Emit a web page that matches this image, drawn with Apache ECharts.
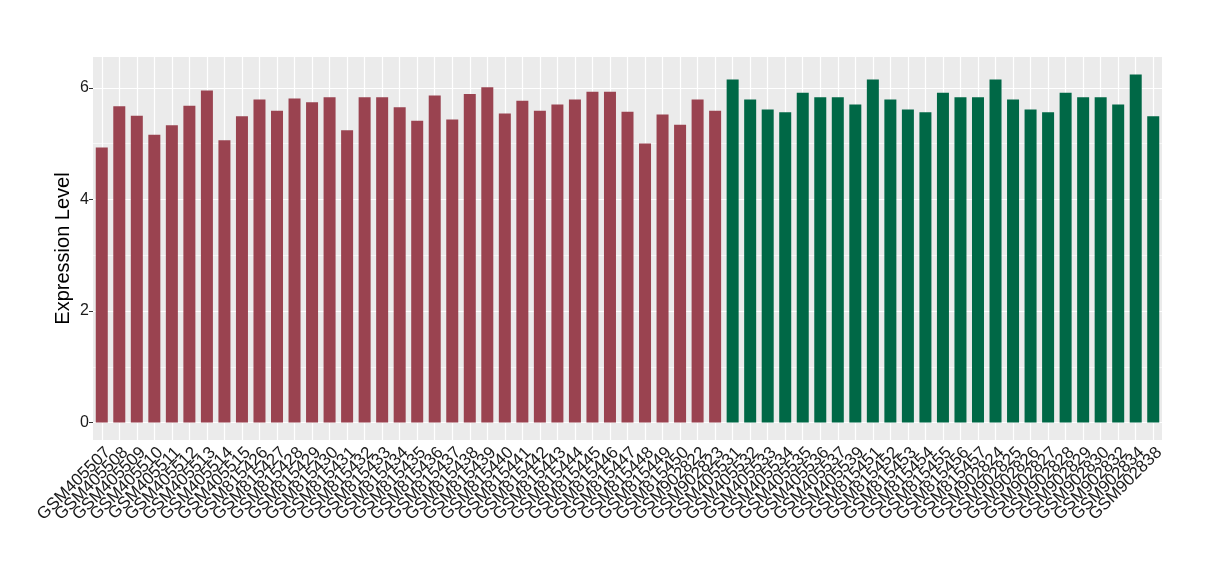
<!DOCTYPE html>
<html>
<head>
<meta charset="utf-8">
<script src="https://cdn.jsdelivr.net/npm/echarts@6/dist/echarts.min.js"></script>
<style>html,body{margin:0;padding:0;background:#fff}#c{width:1220px;height:580px}</style>
</head>
<body>
<div id="c"></div>
<script>
// Group 1 (red)
const redSamples = ["GSM405507","GSM405508","GSM405509","GSM405510","GSM405511","GSM405512","GSM405513","GSM405514","GSM405515",
  "GSM815426","GSM815427","GSM815428","GSM815429","GSM815430","GSM815431","GSM815432","GSM815433","GSM815434","GSM815435",
  "GSM815436","GSM815437","GSM815438","GSM815439","GSM815440","GSM815441","GSM815442","GSM815443","GSM815444","GSM815445",
  "GSM815446","GSM815447","GSM815448","GSM815449","GSM815450","GSM902822","GSM902823"];
const redValues = [4.93,5.67,5.50,5.16,5.33,5.68,5.95,5.06,5.49,
  5.79,5.59,5.81,5.74,5.83,5.24,5.83,5.83,5.65,5.41,
  5.86,5.43,5.89,6.01,5.54,5.77,5.59,5.70,5.79,5.93,
  5.93,5.57,5.00,5.52,5.34,5.79,5.59];
// Group 2 (green)
const greenSamples = ["GSM405531","GSM405532","GSM405533","GSM405534","GSM405535","GSM405536","GSM405537","GSM405539",
  "GSM815451","GSM815452","GSM815453","GSM815454","GSM815455","GSM815456","GSM815457",
  "GSM902824","GSM902825","GSM902826","GSM902827","GSM902828","GSM902829","GSM902830","GSM902832","GSM902834","GSM902838"];
const greenValues = [6.15,5.79,5.61,5.56,5.91,5.83,5.83,5.70,
  6.15,5.79,5.61,5.56,5.91,5.83,5.83,
  6.15,5.79,5.61,5.56,5.91,5.83,5.83,5.70,6.24,5.49];
const yTicks = [0,2,4,6];
const yMinor = [1,3,5];

const redColor = '#9A4350';
const greenColor = '#006846';
const categories = redSamples.concat(greenSamples);
const barData = redValues.map(v => ({value: v, itemStyle: {color: redColor}}))
  .concat(greenValues.map(v => ({value: v, itemStyle: {color: greenColor}})));
const allVals = redValues.concat(greenValues);
const maxV = Math.max(...allVals);
const yMax = maxV * 1.05, yMin = -maxV * 0.05;

const font = '"Liberation Sans", Arial, Helvetica, sans-serif';
const chart = echarts.init(document.getElementById('c'), null, {renderer: 'canvas'});
chart.setOption({
  animation: false,
  grid: {left: 93, right: 58, top: 57, bottom: 140, show: true, backgroundColor: '#EBEBEB', borderWidth: 0},
  xAxis: {
    type: 'category', data: categories,
    axisLine: {show: false},
    axisTick: {show: true, alignWithLabel: true, interval: 0, length: 4, lineStyle: {color: '#333333', width: 1}},
    axisLabel: {interval: 0, rotate: 45, margin: 4, fontSize: 17, color: '#1A1A1A', fontFamily: font, verticalAlign: 'top'},
    splitLine: {show: false}
  },
  yAxis: {
    type: 'value', min: yMin, max: yMax,
    name: 'Expression Level', nameLocation: 'middle', nameGap: 20, nameMoveOverlap: false,
    nameTextStyle: {fontSize: 20, color: '#000', fontFamily: font},
    axisLine: {show: false},
    axisTick: {show: true, length: 4, customValues: yTicks, lineStyle: {color: '#333333', width: 1}},
    axisLabel: {customValues: yTicks, margin: 4, fontSize: 16, color: '#1A1A1A', fontFamily: font},
    splitLine: {show: false}
  },
  series: [
    {
      type: 'line', data: [], silent: true, symbol: 'none', z: 1,
      markLine: {
        silent: true, symbol: 'none', z: 1, label: {show: false}, animation: false,
        data: categories.map((c, i) => ({xAxis: i, lineStyle: {color: '#FFFFFF', width: 1.2, type: 'solid'}}))
          .concat(yTicks.map(v => ({yAxis: v, lineStyle: {color: '#FFFFFF', width: 1.2, type: 'solid'}})))
          .concat(yMinor.map(v => ({yAxis: v, lineStyle: {color: '#FFFFFF', width: 0.6, type: 'solid'}})))
      }
    },
    {
      type: 'bar', data: barData, barWidth: 12, z: 3, silent: true
    }
  ]
});
</script>
</body>
</html>
